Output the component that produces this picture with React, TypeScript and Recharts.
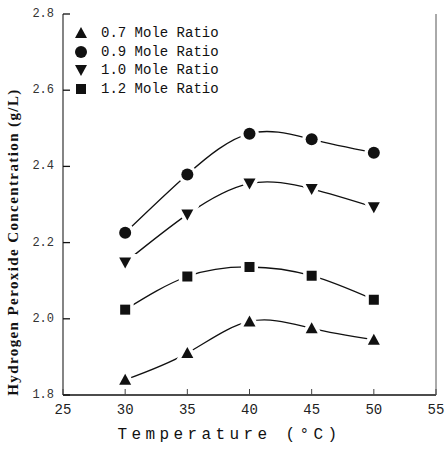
import { LineChart, Line, XAxis, YAxis } from 'recharts'

const temps = [30, 35, 40, 45, 50]
const ratio07 = [1.84, 1.91, 1.993, 1.975, 1.945]
const ratio09 = [2.226, 2.379, 2.486, 2.471, 2.436]
const ratio10 = [2.148, 2.274, 2.355, 2.341, 2.293]
const ratio12 = [2.024, 2.111, 2.136, 2.113, 2.05]

const xTicks = [25, 30, 35, 40, 45, 50, 55]
const yTicks = [1.8, 2.0, 2.2, 2.4, 2.6, 2.8]

const series = [
  { key: 'r07', name: '0.7 Mole Ratio', shape: 'up' },
  { key: 'r09', name: '0.9 Mole Ratio', shape: 'circle' },
  { key: 'r10', name: '1.0 Mole Ratio', shape: 'down' },
  { key: 'r12', name: '1.2 Mole Ratio', shape: 'square' }
]

const data = temps.map((t, i) => ({
  t,
  r07: ratio07[i],
  r09: ratio09[i],
  r10: ratio10[i],
  r12: ratio12[i]
}))

const INK = '#111'
const MONO = '"Liberation Mono", "DejaVu Sans Mono", monospace'

const Marker = ({ cx, cy, shape, gap = 3 }: any) => {
  const common = { fill: INK, stroke: '#fff', strokeWidth: gap, paintOrder: 'stroke' as any }
  if (shape === 'circle') return <circle cx={cx} cy={cy} r={6} {...common} />
  if (shape === 'square') return <rect x={cx - 5} y={cy - 5} width={10} height={10} {...common} />
  if (shape === 'down')
    return <polygon points={`${cx - 6},${cy - 5} ${cx + 6},${cy - 5} ${cx},${cy + 6}`} {...common} />
  return <polygon points={`${cx},${cy - 6} ${cx - 6},${cy + 5} ${cx + 6},${cy + 5}`} {...common} />
}

const LeftTick = ({ x, y, payload }: any) => (
  <g>
    <text x={x} y={y} textAnchor='end' dominantBaseline='central' fontSize={12} fontFamily={MONO} fill='#333'>
      {payload.value.toFixed(1)}
    </text>
    <line x1={x + 9} x2={x + 16} y1={y} y2={y} stroke={INK} strokeWidth={1.3} />
  </g>
)

const RightTick = ({ x, y }: any) => (
  <line x1={x - 7} x2={x} y1={y} y2={y} stroke={INK} strokeWidth={1.3} />
)

const BottomTick = ({ x, y, payload }: any) => (
  <g>
    <text x={x} y={y} textAnchor='middle' dominantBaseline='hanging' fontSize={14} fontFamily={MONO} fill='#222'>
      {payload.value}
    </text>
    <line x1={x} x2={x} y1={y - 9} y2={y - 15} stroke='#444' strokeWidth={1} />
  </g>
)

// y title sits a bit lower than the plot centre in the original
const YTitle = () => (
  <text
    x={13}
    y={242}
    transform='rotate(-90 13 242)'
    textAnchor='middle'
    dominantBaseline='central'
    fontFamily='"Liberation Serif", serif'
    fontWeight='bold'
    fontSize={15}
    letterSpacing={1.4}
    fill={INK}
  >
    Hydrogen Peroxide Concentration (g/L)
  </text>
)

const ChartLegend = () => (
  <div style={{ position: 'absolute', left: 72, top: 24, fontFamily: MONO, fontSize: 14, color: INK }}>
    {series.map((s) => (
      <div key={s.key} style={{ display: 'flex', alignItems: 'center', height: 18.5 }}>
        <svg width={18} height={16}>
          <Marker cx={9} cy={8} shape={s.shape} gap={0} />
        </svg>
        <span style={{ marginLeft: 11 }}>{s.name}</span>
      </div>
    ))}
  </div>
)

export default function App() {
  return (
    <div style={{ position: 'absolute', left: 0, top: 0, width: 445, height: 451, background: '#fff' }}>
      <LineChart width={445} height={451} data={data} margin={{ top: 14, right: 8, bottom: 0, left: 0 }}>
        <XAxis
          xAxisId='b'
          dataKey='t'
          type='number'
          domain={[25, 55]}
          ticks={xTicks}
          tickSize={0}
          tickMargin={9}
          tick={<BottomTick />}
          tickLine={false}
          height={56}
          axisLine={{ stroke: INK, strokeWidth: 1.6 }}
          label={{
            value: 'Temperature (°C)',
            position: 'insideBottom',
            offset: 12,
            dx: -20,
            style: { fontFamily: MONO, fontSize: 16, letterSpacing: 4.4, fill: INK }
          }}
        />
        <XAxis
          xAxisId='t'
          orientation='top'
          dataKey='t'
          type='number'
          domain={[25, 55]}
          ticks={xTicks}
          tick={false}
          tickLine={false}
          height={0}
          axisLine={{ stroke: INK, strokeWidth: 1.4 }}
        />
        <YAxis
          yAxisId='l'
          domain={[1.8, 2.8]}
          ticks={yTicks}
          tickSize={0}
          tickMargin={9}
          tick={<LeftTick />}
          tickLine={false}
          width={63}
          axisLine={{ stroke: '#333', strokeWidth: 1.2 }}
          label={<YTitle />}
        />
        <YAxis
          yAxisId='r'
          orientation='right'
          domain={[1.8, 2.8]}
          ticks={yTicks}
          tickSize={0}
          tickMargin={0}
          tick={<RightTick />}
          tickLine={false}
          width={1}
          axisLine={{ stroke: '#555', strokeWidth: 1 }}
        />
        {series.map((s) => (
          <Line
            key={s.key}
            xAxisId='b'
            yAxisId='l'
            dataKey={s.key}
            name={s.name}
            type='natural'
            stroke={INK}
            strokeWidth={1.3}
            isAnimationActive={false}
            dot={(p: any) => <Marker key={`${s.key}-${p.index}`} cx={p.cx} cy={p.cy} shape={s.shape} gap={7} />}
            activeDot={false}
          />
        ))}
      </LineChart>
      <ChartLegend />
    </div>
  )
}
